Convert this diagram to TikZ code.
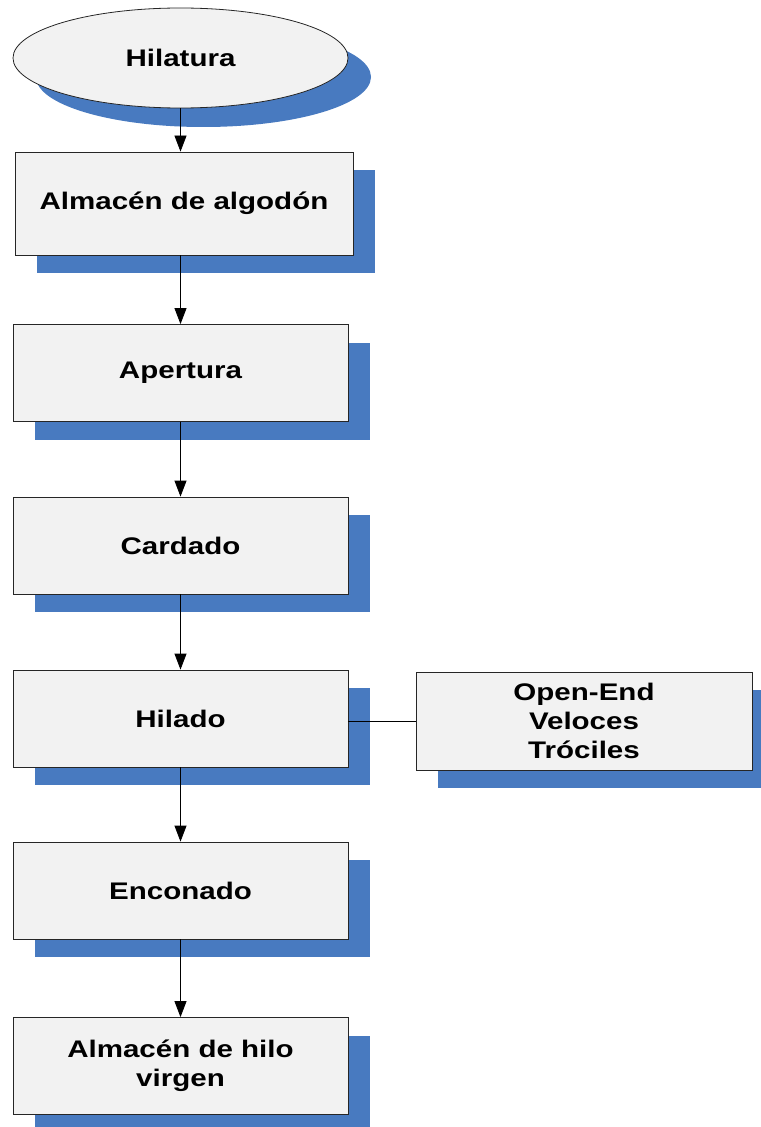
\documentclass[tikz,border=0pt]{standalone}
\usepackage{fontspec}
\setmainfont{Liberation Sans}[FakeStretch=1.23]
\usepackage{tikz}
\usetikzlibrary{shapes}
\usetikzlibrary{shadows}
\usetikzlibrary{arrows.meta}
\definecolor{shblue}{RGB}{72,122,192}
\definecolor{boxgray}{RGB}{242,242,242}

\begin{document}
\begin{tikzpicture}[x=0.75pt, y=-0.75pt,
  every node/.style={draw=black!85, fill=boxgray, line width=0.6pt, inner sep=0pt, align=center, font=\bfseries\fontsize{18}{22}\selectfont},
  proc/.style={rectangle, minimum width=251.25pt, minimum height=72.75pt, drop shadow={shadow xshift=16.5pt, shadow yshift=-13.5pt, fill=shblue, opacity=1}},
  start/.style={ellipse, minimum width=251.25pt, minimum height=75pt, drop shadow={shadow xshift=17.25pt, shadow yshift=-14.25pt, fill=shblue, opacity=1}},
  flow/.style={-{Triangle[length=12pt,width=9pt]}, line width=0.6pt}]
\useasboundingbox (0,0) rectangle (760,1127);
\node[start] (hilatura) at (180.5,58) {Hilatura};
\node[proc, minimum width=253.5pt, minimum height=77.25pt] (almacen) at (184,203.5) {Almacén de algodón};
\node[proc] (apertura) at (180.5,373) {Apertura};
\node[proc] (cardado) at (180.5,545.5) {Cardado};
\node[proc] (hilado) at (180.5,718.5) {Hilado};
\node[proc] (enconado) at (180.5,890.5) {Enconado};
\node[proc] (hilo) at (180.5,1066) {Almacén de hilo\\virgen};
\node[proc, minimum width=252pt, minimum height=73.5pt] (openend) at (584,721) {Open-End\\Veloces\\Tróciles};
\draw[flow] (hilatura) -- (hilatura |- almacen.north);
\draw[flow] (hilatura |- almacen.south) -- (apertura);
\draw[flow] (apertura) -- (cardado);
\draw[flow] (cardado) -- (hilado);
\draw[flow] (hilado) -- (enconado);
\draw[flow] (enconado) -- (hilo);
\draw[line width=0.6pt] (openend.west) -- (openend.west -| hilado.east);
\end{tikzpicture}
\end{document}
